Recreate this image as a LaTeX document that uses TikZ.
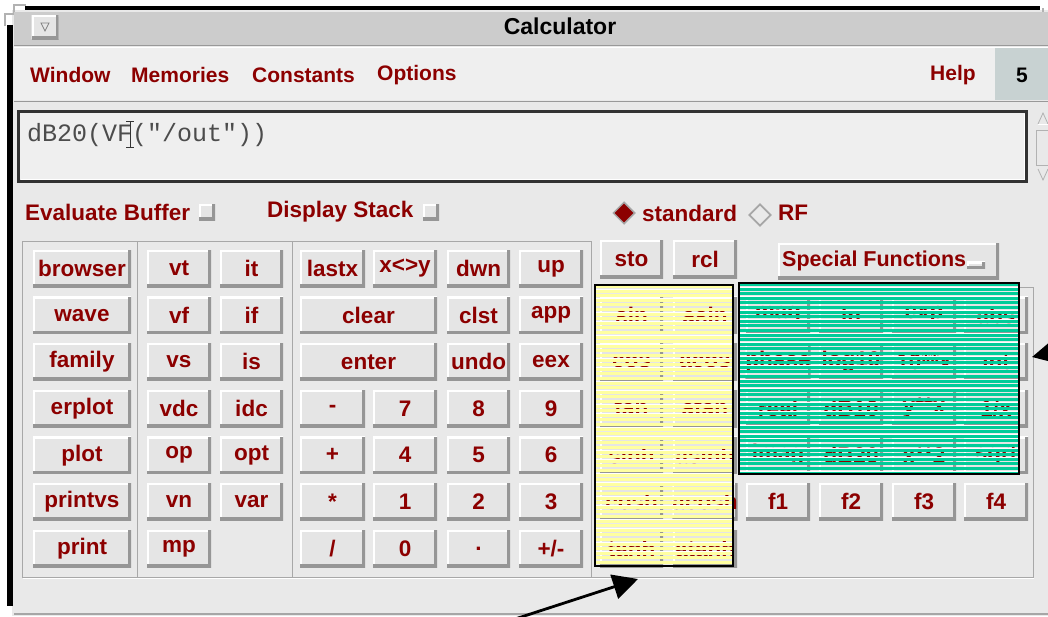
\documentclass[tikz,border=0pt]{standalone}
\usepackage{fontspec}
\setmainfont{Liberation Sans}
\newfontfamily\monofont{Liberation Mono}
\usetikzlibrary{arrows.meta,shapes.geometric}
\definecolor{bgwin}{RGB}{233,233,233}
\definecolor{titlebg}{RGB}{204,204,204}
\definecolor{menubg}{RGB}{239,239,239}
\definecolor{fivebg}{RGB}{200,210,210}
\definecolor{btnface}{RGB}{229,229,229}
\definecolor{btnshadow}{RGB}{150,150,150}
\definecolor{dred}{RGB}{140,0,0}
\definecolor{yel}{RGB}{255,255,160}
\definecolor{grn}{RGB}{0,204,153}
\definecolor{etch}{RGB}{168,168,168}
\definecolor{boxedge}{RGB}{50,50,50}
\newcommand\btnfont{\fontsize{22.5}{25}\selectfont\bfseries}
\newcommand\menufont{\fontsize{21}{24}\selectfont\bfseries}
\begin{document}
\begin{tikzpicture}[x=1pt,y=-1pt,
  btn/.style={rectangle, fill=btnface, inner sep=0pt, minimum height=37pt,
    text=dred, font=\btnfont,
    path picture={
      \draw[white,line width=4pt] (path picture bounding box.south west) -- (path picture bounding box.north west) -- (path picture bounding box.north east);
      \draw[btnshadow,line width=6pt] (path picture bounding box.north east) -- (path picture bounding box.south east) -- (path picture bounding box.south west);
    }},
  lbl/.style={inner sep=0pt, text=dred, font=\btnfont},
  menuitem/.style={inner sep=0pt, text=dred, font=\menufont, anchor=west},
  cbox/.style={btn, minimum width=16pt, minimum height=16pt},
  etchline/.style={etch, line width=1pt},
  arr/.style={line width=2.8pt, -{Triangle[length=25pt,width=25pt]}},
  bigbox/.style={draw=black, line width=2.5pt}
]
\useasboundingbox (0,0) rectangle (1048,616);
\begin{scope}
\clip (0,0) rectangle (1048,616);
% backgrounds
\fill[white] (0,0) rectangle (1048,616);
\fill[bgwin] (12,10) rectangle (1048,616);
% window frame
\fill[black] (7,25) rectangle (12.5,606);
\fill[black] (25,6) rectangle (1040,10);
\draw[gray!60, line width=1.2pt] (5,26) -- (5,14) -- (14,14) -- (14,5) -- (26,5);
\draw[gray!60, line width=1.2pt] (1043,8) -- (1043,46);
% title bar
\fill[titlebg] (14,12) rectangle (1048,45);
\draw[gray!80, line width=1pt] (14,45.5) -- (1048,45.5);
\draw[white, line width=1pt] (14,47) -- (1048,47);
\node[btn, minimum width=27pt, minimum height=24pt] (tbtn) at (45,27) {};
\draw[gray, line width=0.8pt] (41,23) -- (49,23) -- (45,31) -- cycle;
\node[font=\fontsize{23}{26}\selectfont\bfseries, inner sep=0pt] (title) at (560,26) {Calculator};
% menu bar
\fill[menubg] (14,48) rectangle (995,100);
\fill[fivebg] (995,48) rectangle (1048,100);
\draw[gray!80, line width=1pt] (14,101) -- (1048,101);
\node[menuitem] (mwin) at (30,75) {Window};
\node[menuitem] (mmem) at (131,75) {Memories};
\node[menuitem] (mcon) at (252,75) {Constants};
\node[menuitem] (mopt) at (377,75) {Options};
\node[menuitem] (mhelp) at (930,75) {Help};
\node[font=\menufont, inner sep=0pt] (five) at (1022,75) {5};
% entry box
\fill[menubg] (18,111) rectangle (1027,182);
\draw[boxedge, line width=3pt] (18.5,111.5) rectangle (1026.5,181.5);
\draw[white, line width=1pt] (21,179) -- (1024,179) -- (1024,114);
\node[font=\monofont\fontsize{25}{28}\selectfont, text=black!70, anchor=base west, inner sep=0pt] (entry) at (27,141) {dB20(VF("/out"))};
\draw[black!80, line width=0.9pt] (130,121) -- (130,147) (126,121) -- (134,121) (126,147) -- (134,147);
% scrollbar bits
\draw[gray!60, line width=0.8pt] (1038,124) -- (1043,113) -- (1048,124);
\draw[white, line width=0.8pt] (1038,124) -- (1048,124);
\draw[gray!60, line width=0.8pt] (1036,130) rectangle (1049,165);
\draw[gray!60, line width=0.8pt] (1038,169) -- (1043,180) -- (1048,169);
% checkboxes row
\node[lbl, anchor=west] (evalbuf) at (25,212) {Evaluate Buffer};
\node[cbox] (cb1) at (207,212) {};
\node[lbl, anchor=west] (dispstk) at (267,212) {Display Stack};
\node[cbox] (cb2) at (431,212) {};
\node[diamond, fill=dred, draw=gray!70, line width=1.5pt, minimum size=22pt, inner sep=0pt] (rstd) at (624,213) {};
\node[lbl, anchor=west] (std) at (642,213) {standard};
\node[diamond, draw=gray!70, line width=1.8pt, minimum size=22pt, inner sep=0pt] (rrf) at (760,215) {};
\node[lbl, anchor=west] (rf) at (778,213) {RF};
% panel frames
\draw[etchline] (22,241) rectangle (137,577);
\draw[etchline] (137,241) rectangle (292,577);
\draw[etchline] (292,241) rectangle (591,577);
\draw[etchline] (591,241) -- (591,577) -- (1033,577) -- (1033,287) -- (740,287);
\draw[white, line width=1pt] (23,578.5) -- (1034,578.5);
% panel 1
\foreach \lab [count=\i from 0] in {browser,wave,family,erplot,plot,printvs,print}
  \node[btn, minimum width=98pt] (pa\i) at (82,{268.5+46.67*\i}) {\lab};
% panel 2
\foreach \lab [count=\i from 0] in {vt,vf,vs,vdc,op,vn,mp}
  \node[btn, minimum width=64pt] (pb\i) at (179,{268.5+46.67*\i}) {\lab};
\foreach \lab [count=\i from 0] in {it,if,is,idc,opt,var}
  \node[btn, minimum width=63pt] (pc\i) at (251.5,{268.5+46.67*\i}) {\lab};
% panel 3
\node[btn, minimum width=65pt] (lastx) at (332.5,268.5) {lastx};
\node[btn, minimum width=64pt] (xy) at (405,268.5) {x<>y};
\node[btn, minimum width=63pt] (dwn) at (478.5,268.5) {dwn};
\node[btn, minimum width=64pt] (up) at (551,268.5) {up};
\node[btn, minimum width=137pt] (clear) at (368.5,315.2) {clear};
\node[btn, minimum width=63pt] (clst) at (478.5,315.2) {clst};
\node[btn, minimum width=64pt] (app) at (551,315.2) {app};
\node[btn, minimum width=137pt] (enter) at (368.5,361.8) {enter};
\node[btn, minimum width=63pt] (undo) at (478.5,361.8) {undo};
\node[btn, minimum width=64pt] (eex) at (551,361.8) {eex};
\node[btn, minimum width=65pt] (minus) at (332.5,408.5) {-};
\node[btn, minimum width=64pt] (k7) at (405,408.5) {7};
\node[btn, minimum width=63pt] (k8) at (478.5,408.5) {8};
\node[btn, minimum width=64pt] (k9) at (551,408.5) {9};
\node[btn, minimum width=65pt] (plus) at (332.5,455.2) {+};
\node[btn, minimum width=64pt] (k4) at (405,455.2) {4};
\node[btn, minimum width=63pt] (k5) at (478.5,455.2) {5};
\node[btn, minimum width=64pt] (k6) at (551,455.2) {6};
\node[btn, minimum width=65pt] (times) at (332.5,501.8) {*};
\node[btn, minimum width=64pt] (k1) at (405,501.8) {1};
\node[btn, minimum width=63pt] (k2) at (478.5,501.8) {2};
\node[btn, minimum width=64pt] (k3) at (551,501.8) {3};
\node[btn, minimum width=65pt] (divide) at (332.5,548.5) {/};
\node[btn, minimum width=64pt] (k0) at (405,548.5) {0};
\node[btn, minimum width=63pt] (dot) at (478.5,548.5) {.};
\node[btn, minimum width=64pt] (chs) at (551,548.5) {+/-};
% panel 4 top
\node[btn, minimum width=63pt, minimum height=38pt] (sto) at (631.5,259) {sto};
\node[btn, minimum width=64pt, minimum height=38pt] (rcl) at (705,259) {rcl};
\node[btn, minimum width=221pt, minimum height=36pt] (spf) at (888.5,261) {};
\node[lbl, anchor=west, font=\fontsize{21.5}{24}\selectfont\bfseries] (spflbl) at (782,261) {Special Functions};
\node[btn, minimum width=18pt, minimum height=7pt] (spfind) at (976,265) {};
% hidden trig buttons (under yellow)
\foreach \lab [count=\i from 1] in {sin,cos,tan,sinh,cosh,tanh}
  \node[btn, minimum width=63pt] (ty\i) at (631.5,{268.5+46.67*\i}) {\lab};
\foreach \lab [count=\i from 1] in {asin,acos,atan,asinh,acosh,atanh}
  \node[btn, minimum width=64pt] (tz\i) at (705,{268.5+46.67*\i}) {\lab};
% hidden function buttons (under green)
\foreach \la/\lb/\lc/\ld [count=\i from 1] in {mag/ln/exp/abs, phase/log10/10**x/int, real/dB10/y**x/1\slash x, imag/dB20/x**2/sqrt}{
  \node[btn, minimum width=64pt] (ga\i) at (778,{268.5+46.67*\i}) {\la};
  \node[btn, minimum width=64pt] (gb\i) at (851,{268.5+46.67*\i}) {\lb};
  \node[btn, minimum width=64pt] (gc\i) at (924,{268.5+46.67*\i}) {\lc};
  \node[btn, minimum width=64pt] (gd\i) at (996,{268.5+46.67*\i}) {\ld};
}
\node[btn, minimum width=64pt] (f1) at (778,501.8) {f1};
\node[btn, minimum width=64pt] (f2) at (851,501.8) {f2};
\node[btn, minimum width=64pt] (f3) at (924,501.8) {f3};
\node[btn, minimum width=64pt] (f4) at (996,501.8) {f4};
% striped overlays
\begin{scope}
  \clip (595,285) rectangle (733,566);
  \foreach \k in {0,...,61}{
    \fill[yel] (595,{285+\k*4.6}) rectangle (733,{285+\k*4.6+2.9});
    \fill[white] (595,{285+\k*4.6+4.1}) rectangle (733,{285+\k*4.6+4.6});
  }
\end{scope}
\begin{scope}
  \clip (739,283) rectangle (1019,474);
  \foreach \k in {0,...,42}{
    \fill[grn] (739,{283+\k*4.6}) rectangle (1019,{283+\k*4.6+2.9});
    \fill[white] (739,{283+\k*4.6+4.1}) rectangle (1019,{283+\k*4.6+4.6});
  }
\end{scope}
\node[bigbox, minimum width=138pt, minimum height=281pt, inner sep=0pt] (ybox) at (664,425.5) {};
\node[bigbox, minimum width=280pt, minimum height=191pt, inner sep=0pt] (gbox) at (879,378.5) {};
% bottom window line
\draw[gray!70, line width=2pt] (14,614) -- (1048,614);
% arrows
\coordinate (a1s) at (515,619);
\coordinate (a1t) at (638,579);
\draw[arr] (a1s) -- (a1t);
\coordinate (a2s) at (1110,339);
\coordinate (a2t) at (1032,357);
\draw[arr] (a2s) -- (a2t);
\end{scope}
\end{tikzpicture}
\end{document}
